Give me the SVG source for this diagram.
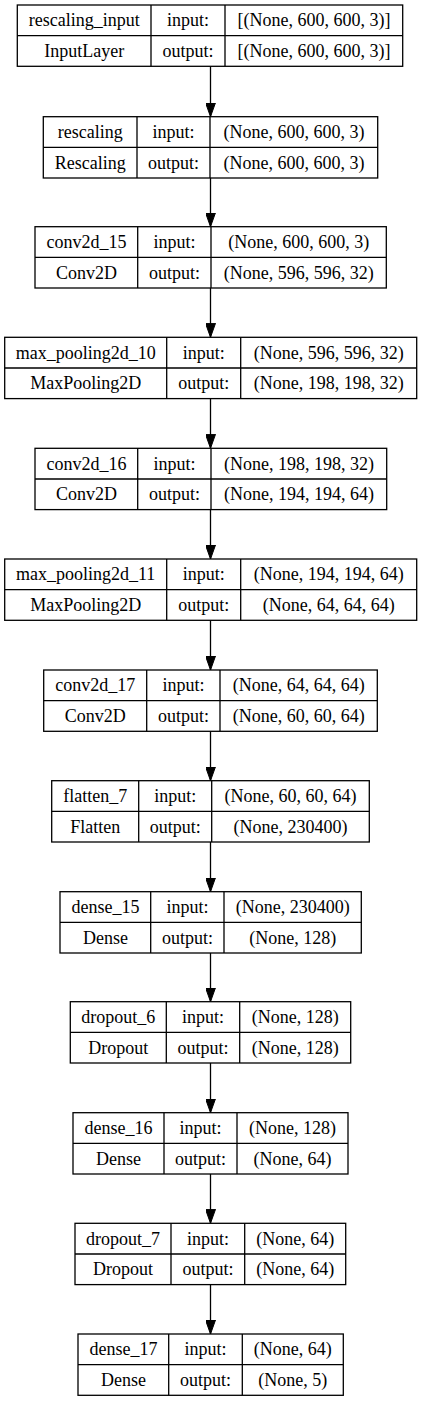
<svg xmlns="http://www.w3.org/2000/svg" width="421" height="1401" viewBox="0 0 421 1401" font-family="'Liberation Serif', 'Times New Roman', 'DejaVu Serif', serif" font-size="18">
<style>
.b{fill:#fff;stroke:#000;stroke-width:1.3}
.l{stroke:#000;stroke-width:1.3;fill:none}
text{fill:#000;text-anchor:middle}
</style>
<defs>
<marker id="ah" markerUnits="userSpaceOnUse" markerWidth="14" markerHeight="10" viewBox="0 0 14 10" refX="14" refY="5" orient="auto">
<path d="M0,0 L14,5 L0,10 Z" fill="#000" stroke="#000" stroke-width="1"/>
</marker>
</defs>
<rect width="421" height="1401" fill="#fff"/>
<g id="connectors">
<path class="l" d="M210.5 66.3V116.7" marker-end="url(#ah)"/>
<path class="l" d="M210.5 178V226.7" marker-end="url(#ah)"/>
<path class="l" d="M210.5 288V337.3" marker-end="url(#ah)"/>
<path class="l" d="M210.5 398.6V448.3" marker-end="url(#ah)"/>
<path class="l" d="M210.5 509.6V559" marker-end="url(#ah)"/>
<path class="l" d="M210.5 620.3V670" marker-end="url(#ah)"/>
<path class="l" d="M210.5 731.3V780.7" marker-end="url(#ah)"/>
<path class="l" d="M210.5 842V891.7" marker-end="url(#ah)"/>
<path class="l" d="M210.5 953V1001.7" marker-end="url(#ah)"/>
<path class="l" d="M210.5 1063V1112.7" marker-end="url(#ah)"/>
<path class="l" d="M210.5 1174V1223.3" marker-end="url(#ah)"/>
<path class="l" d="M210.5 1284.6V1334" marker-end="url(#ah)"/>
</g>
<g id="rescaling_input" transform="translate(0,5)">
<rect class="b" x="17.3" y="0" width="385.4" height="61.3"/>
<path class="l" d="M17.3 30.7H402.7M151 0V61.3M225 0V61.3"/>
<text x="84.2" y="21.3">rescaling_input</text><text x="188" y="21.3">input:</text><text x="313.9" y="21.3">[(None, 600, 600, 3)]</text>
<text x="84.2" y="52">InputLayer</text><text x="188" y="52">output:</text><text x="313.9" y="52">[(None, 600, 600, 3)]</text>
</g>
<g id="rescaling" transform="translate(0,116.7)">
<rect class="b" x="43.3" y="0" width="334.4" height="61.3"/>
<path class="l" d="M43.3 30.7H377.7M137 0V61.3M210 0V61.3"/>
<text x="90.2" y="21.3">rescaling</text><text x="173.5" y="21.3">input:</text><text x="293.9" y="21.3">(None, 600, 600, 3)</text>
<text x="90.2" y="52">Rescaling</text><text x="173.5" y="52">output:</text><text x="293.9" y="52">(None, 600, 600, 3)</text>
</g>
<g id="conv2d_15" transform="translate(0,226.7)">
<rect class="b" x="35" y="0" width="351.3" height="61.3"/>
<path class="l" d="M35 30.7H386.3M137.7 0V61.3M211 0V61.3"/>
<text x="86.4" y="21.3">conv2d_15</text><text x="174.4" y="21.3">input:</text><text x="298.7" y="21.3">(None, 600, 600, 3)</text>
<text x="86.4" y="52">Conv2D</text><text x="174.4" y="52">output:</text><text x="298.7" y="52">(None, 596, 596, 32)</text>
</g>
<g id="max_pooling2d_10" transform="translate(0,337.3)">
<rect class="b" x="4.7" y="0" width="412" height="61.3"/>
<path class="l" d="M4.7 30.7H416.7M166.7 0V61.3M240.7 0V61.3"/>
<text x="85.7" y="21.3">max_pooling2d_10</text><text x="203.7" y="21.3">input:</text><text x="328.7" y="21.3">(None, 596, 596, 32)</text>
<text x="85.7" y="52">MaxPooling2D</text><text x="203.7" y="52">output:</text><text x="328.7" y="52">(None, 198, 198, 32)</text>
</g>
<g id="conv2d_16" transform="translate(0,448.3)">
<rect class="b" x="35" y="0" width="351.7" height="61.3"/>
<path class="l" d="M35 30.7H386.7M137.7 0V61.3M211 0V61.3"/>
<text x="86.4" y="21.3">conv2d_16</text><text x="174.4" y="21.3">input:</text><text x="298.9" y="21.3">(None, 198, 198, 32)</text>
<text x="86.4" y="52">Conv2D</text><text x="174.4" y="52">output:</text><text x="298.9" y="52">(None, 194, 194, 64)</text>
</g>
<g id="max_pooling2d_11" transform="translate(0,559)">
<rect class="b" x="4.7" y="0" width="412" height="61.3"/>
<path class="l" d="M4.7 30.7H416.7M166.7 0V61.3M240.7 0V61.3"/>
<text x="85.7" y="21.3">max_pooling2d_11</text><text x="203.7" y="21.3">input:</text><text x="328.7" y="21.3">(None, 194, 194, 64)</text>
<text x="85.7" y="52">MaxPooling2D</text><text x="203.7" y="52">output:</text><text x="328.7" y="52">(None, 64, 64, 64)</text>
</g>
<g id="conv2d_17" transform="translate(0,670)">
<rect class="b" x="43.7" y="0" width="333.6" height="61.3"/>
<path class="l" d="M43.7 30.7H377.3M146.7 0V61.3M220 0V61.3"/>
<text x="95.2" y="21.3">conv2d_17</text><text x="183.4" y="21.3">input:</text><text x="298.7" y="21.3">(None, 64, 64, 64)</text>
<text x="95.2" y="52">Conv2D</text><text x="183.4" y="52">output:</text><text x="298.7" y="52">(None, 60, 60, 64)</text>
</g>
<g id="flatten_7" transform="translate(0,780.7)">
<rect class="b" x="51.7" y="0" width="317.6" height="61.3"/>
<path class="l" d="M51.7 30.7H369.3M138.7 0V61.3M211.7 0V61.3"/>
<text x="95.2" y="21.3">flatten_7</text><text x="175.2" y="21.3">input:</text><text x="290.5" y="21.3">(None, 60, 60, 64)</text>
<text x="95.2" y="52">Flatten</text><text x="175.2" y="52">output:</text><text x="290.5" y="52">(None, 230400)</text>
</g>
<g id="dense_15" transform="translate(0,891.7)">
<rect class="b" x="60" y="0" width="301.3" height="61.3"/>
<path class="l" d="M60 30.7H361.3M150.7 0V61.3M224 0V61.3"/>
<text x="105.4" y="21.3">dense_15</text><text x="187.4" y="21.3">input:</text><text x="292.7" y="21.3">(None, 230400)</text>
<text x="105.4" y="52">Dense</text><text x="187.4" y="52">output:</text><text x="292.7" y="52">(None, 128)</text>
</g>
<g id="dropout_6" transform="translate(0,1001.7)">
<rect class="b" x="70.3" y="0" width="280.4" height="61.3"/>
<path class="l" d="M70.3 30.7H350.7M166.3 0V61.3M239.7 0V61.3"/>
<text x="118.3" y="21.3">dropout_6</text><text x="203" y="21.3">input:</text><text x="295.2" y="21.3">(None, 128)</text>
<text x="118.3" y="52">Dropout</text><text x="203" y="52">output:</text><text x="295.2" y="52">(None, 128)</text>
</g>
<g id="dense_16" transform="translate(0,1112.7)">
<rect class="b" x="73" y="0" width="275" height="61.3"/>
<path class="l" d="M73 30.7H348M164 0V61.3M237 0V61.3"/>
<text x="118.5" y="21.3">dense_16</text><text x="200.5" y="21.3">input:</text><text x="292.5" y="21.3">(None, 128)</text>
<text x="118.5" y="52">Dense</text><text x="200.5" y="52">output:</text><text x="292.5" y="52">(None, 64)</text>
</g>
<g id="dropout_7" transform="translate(0,1223.3)">
<rect class="b" x="75" y="0" width="270.7" height="61.3"/>
<path class="l" d="M75 30.7H345.7M171 0V61.3M244.7 0V61.3"/>
<text x="123" y="21.3">dropout_7</text><text x="207.9" y="21.3">input:</text><text x="295.2" y="21.3">(None, 64)</text>
<text x="123" y="52">Dropout</text><text x="207.9" y="52">output:</text><text x="295.2" y="52">(None, 64)</text>
</g>
<g id="dense_17" transform="translate(0,1334)">
<rect class="b" x="78" y="0" width="265.3" height="61.3"/>
<path class="l" d="M78 30.7H343.3M168.7 0V61.3M242.3 0V61.3"/>
<text x="123.4" y="21.3">dense_17</text><text x="205.5" y="21.3">input:</text><text x="292.8" y="21.3">(None, 64)</text>
<text x="123.4" y="52">Dense</text><text x="205.5" y="52">output:</text><text x="292.8" y="52">(None, 5)</text>
</g>
</svg>
